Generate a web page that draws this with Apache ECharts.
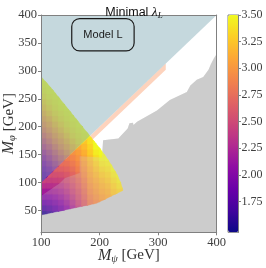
<!DOCTYPE html>
<html><head><meta charset="utf-8">
<script src="https://cdn.jsdelivr.net/npm/echarts@6/dist/echarts.min.js"></script>
<style>html,body{margin:0;padding:0;background:#fff}#c{width:266px;height:268px}</style>
</head><body><div id="c"></div>
<script>
// ---- axes / ticks ----
const xTicks = [100, 200, 300, 400];
const yTicks = [50, 100, 150, 200, 250, 300, 350, 400];
const cbTicks = [1.75, 2.00, 2.25, 2.50, 2.75, 3.00, 3.25, 3.50];
const xRange = [100, 400];
const yRange = [11, 400];
const lambdaRange = [1.46, 3.5];
const plasma = ['#0d0887','#41049d','#6a00a8','#8f0da4','#b12a90','#cc4778','#e16462','#f2844b','#fca636','#fcce25','#f0f921'];

// ---- regions (M_psi, M_phi) ----
const scanBoundary = [[100,42],[195,63],[240,86],[236,100],[228,118],[215,140],[200,162],[180,188],[160,214],[140,240],[120,266],[100,290]];
const excludedRegion = [[100,0],[400,0],[400,330],[395,322],[390,312],[386,302],[377,289],[366,284],[355,274],[349,262],[320,248],[298,229],[264,209],[258,203],[257,207],[251,206],[248,197],[232,179],[206,176],[204,145],[166,147],[166,117],[160,115],[141,108],[132,99],[100,76]];
const peachBand = [[150,150],[313,313],[313,302],[150,139]];
const psiHeavierRegion = [[100,100],[400,400],[100,400]];

// ---- minimal lambda_L, 10 GeV cells (left edge x, first bottom edge y, values upward) ----
const cellSize = 10;
const upperX  = [100,110,120,130,140,150,160,170,180];
const upperY0 = [100,110,120,130,140,150,160,170,180];
const upperLambda = [
  [1.80,1.88,1.97,2.07,2.18,2.30,2.44,2.58,2.72,2.85,2.96,3.06,3.16,3.25,3.33,3.40,3.45,3.48,3.50],
  [1.98,2.08,2.19,2.31,2.44,2.58,2.72,2.85,2.97,3.07,3.17,3.27,3.35,3.41,3.46,3.49,3.50],
  [2.22,2.35,2.49,2.63,2.77,2.90,3.01,3.11,3.21,3.30,3.37,3.43,3.46,3.49,3.50],
  [2.52,2.66,2.80,2.93,3.03,3.13,3.23,3.32,3.39,3.44,3.48,3.50,3.50],
  [2.82,2.95,3.06,3.16,3.26,3.35,3.41,3.45,3.48,3.50],
  [3.11,3.20,3.29,3.37,3.42,3.46,3.49,3.50],
  [3.31,3.39,3.44,3.47,3.50,3.50],
  [3.45,3.48,3.50,3.50],
  [3.50]
];
const lowerX  = [100,110,120,130,140,150,160,170,180,190,200,210,220,230];
const lowerY0 = [40,40,40,40,50,50,50,50,50,60,60,70,70,80];
const lowerLambda = [
  [1.55,1.70,1.86,2.02,2.18,2.31,2.45],
  [1.62,1.76,1.90,2.04,2.18,2.31,2.43,2.55],
  [1.72,1.85,1.97,2.09,2.21,2.33,2.44,2.54,2.65],
  [1.84,1.95,2.06,2.16,2.26,2.36,2.46,2.56,2.66,2.75],
  [2.08,2.17,2.26,2.35,2.44,2.53,2.61,2.69,2.77,2.85],
  [2.24,2.32,2.40,2.48,2.55,2.62,2.69,2.76,2.83,2.90,2.97],
  [2.42,2.48,2.55,2.61,2.67,2.73,2.80,2.86,2.92,2.98,3.04,3.10],
  [2.60,2.65,2.71,2.76,2.82,2.87,2.93,2.98,3.04,3.09,3.14,3.20,3.25],
  [2.78,2.83,2.88,2.93,2.98,3.03,3.08,3.13,3.18,3.23,3.28,3.33,3.38,3.42],
  [2.92,2.97,3.02,3.07,3.12,3.18,3.24,3.30,3.37,3.44,3.50,3.50],
  [3.00,3.05,3.10,3.15,3.20,3.27,3.34,3.41,3.47,3.50,3.50],
  [3.10,3.15,3.20,3.26,3.32,3.38,3.44,3.50],
  [3.20,3.25,3.30,3.36,3.42,3.48,3.50],
  [3.32,3.38,3.44,3.50]
];
const modelBox = { x: [152.5, 259], y: [335.7, 393.6], label: 'Model L' };

// ---- helpers ----
function buildCells(xs, y0s, vals) {
  const out = [];
  xs.forEach((x, i) => vals[i].forEach((v, j) => out.push([x, y0s[i] + j * cellSize, v])));
  return out;
}
function clipHalf(pts, a, b) {
  const out = [];
  const side = p => (b[0]-a[0])*(p[1]-a[1]) - (b[1]-a[1])*(p[0]-a[0]);
  for (let i = 0; i < pts.length; i++) {
    const cur = pts[i], prev = pts[(i + pts.length - 1) % pts.length];
    const sc = side(cur), sp = side(prev);
    if (sc >= 0) {
      if (sp < 0) { const t = sp/(sp-sc); out.push([prev[0]+t*(cur[0]-prev[0]), prev[1]+t*(cur[1]-prev[1])]); }
      out.push(cur);
    } else if (sp >= 0) {
      const t = sp/(sp-sc); out.push([prev[0]+t*(cur[0]-prev[0]), prev[1]+t*(cur[1]-prev[1])]);
    }
  }
  return out;
}
function clipConvex(pts, poly) {
  for (let i = 0; i < poly.length && pts.length; i++) pts = clipHalf(pts, poly[i], poly[(i+1) % poly.length]);
  return pts;
}
function polygonSeries(points, style) {
  return {
    type: 'custom', coordinateSystem: 'cartesian2d', xAxisIndex: 0, yAxisIndex: 0,
    data: points, clip: true, silent: true,
    renderItem: (params, api) => params.dataIndex !== 0 ? null : {
      type: 'polygon', shape: { points: points.map(p => api.coord(p)) }, style: style
    }
  };
}
function cellSeries(data, upper) {
  return {
    type: 'custom', coordinateSystem: 'cartesian2d', xAxisIndex: 0, yAxisIndex: 0,
    data: data, clip: true, silent: true, encode: { x: 0, y: 1 },
    renderItem: (params, api) => {
      const x = api.value(0), y = api.value(1), e = 0.8;
      let pts = [[x-e,y-e],[x+cellSize+e,y-e],[x+cellSize+e,y+cellSize+e],[x-e,y+cellSize+e]];
      pts = clipConvex(pts, scanBoundary);
      pts = upper ? clipHalf(pts, [0,0], [1,1]) : clipHalf(pts, [1,1], [0,0]);
      if (pts.length < 3) return null;
      const col = api.visual('color');
      return { type: 'polygon', shape: { points: pts.map(p => api.coord(p)) },
        style: { fill: col, stroke: col, lineWidth: 0.4, opacity: 1 } };
    }
  };
}

const serif = 'Liberation Serif';
const axisGray = '#808080';
const tickText = { fontFamily: serif, fontSize: 12.5, color: '#404040' };
const nameRich = {
  m: { fontFamily: serif, fontStyle: 'italic', fontSize: 16, color: '#333', lineHeight: 18 },
  s: { fontFamily: serif, fontStyle: 'italic', fontSize: 10.5, color: '#333', lineHeight: 10, verticalAlign: 'bottom' },
  g: { fontFamily: serif, fontSize: 15, color: '#333', lineHeight: 18 }
};

const chart = echarts.init(document.getElementById('c'), null, { renderer: 'canvas' });
chart.setOption({
  animation: false,
  title: {
    text: '{a|Minimal }{b|λ}{c|L}',
    left: 129, top: 0, textAlign: 'center',
    textStyle: {
      fontWeight: 'normal',
      rich: {
        a: { fontFamily: 'Liberation Sans', fontWeight: 'normal', fontSize: 12.5, color: '#111', lineHeight: 15 },
        b: { fontFamily: serif, fontWeight: 'normal', fontStyle: 'italic', fontSize: 13.5, color: '#111', lineHeight: 15 },
        c: { fontFamily: serif, fontWeight: 'normal', fontStyle: 'italic', fontSize: 9, color: '#111', lineHeight: 9, verticalAlign: 'bottom' }
      }
    }
  },
  grid: [
    { left: 41, top: 15, width: 175.7, height: 217.3, containLabel: false, outerBoundsMode: 'none' },
    { left: 228, top: 15, width: 10.5, height: 217.3, containLabel: false, outerBoundsMode: 'none',
      show: true, borderColor: axisGray, borderWidth: 1, backgroundColor: 'transparent' }
  ],
  xAxis: [
    { gridIndex: 0, type: 'value', min: xRange[0], max: xRange[1], position: 'bottom', z: 5,
      axisLine: { show: true, onZero: false, lineStyle: { color: axisGray, width: 1 } },
      axisTick: { show: true, customValues: xTicks, length: 3, lineStyle: { color: axisGray } },
      axisLabel: Object.assign({ customValues: xTicks, margin: 4 }, tickText),
      splitLine: { show: false },
      name: '{m|M}{s|ψ} {g|[GeV]}', nameLocation: 'middle', nameGap: 14, nameMoveOverlap: false,
      nameTextStyle: { fontFamily: serif, fontSize: 15, color: '#333', rich: nameRich } },
    { gridIndex: 0, type: 'value', min: xRange[0], max: xRange[1], position: 'top', z: 5,
      axisLine: { show: true, onZero: false, lineStyle: { color: axisGray, width: 1 } },
      axisTick: { show: false }, axisLabel: { show: false }, splitLine: { show: false } },
    { gridIndex: 1, type: 'value', min: 0, max: 1, show: false }
  ],
  yAxis: [
    { gridIndex: 0, type: 'value', min: yRange[0], max: yRange[1], position: 'left', z: 5,
      axisLine: { show: true, onZero: false, lineStyle: { color: axisGray, width: 1 } },
      axisTick: { show: true, customValues: yTicks, length: 3, lineStyle: { color: axisGray } },
      axisLabel: Object.assign({ customValues: yTicks, margin: 4 }, tickText),
      splitLine: { show: false },
      name: '{m|M}{s|φ} {g|[GeV]}', nameLocation: 'middle', nameGap: 23, nameMoveOverlap: false,
      nameTextStyle: { fontFamily: serif, fontSize: 15, color: '#333', rich: nameRich } },
    { gridIndex: 0, type: 'value', min: yRange[0], max: yRange[1], position: 'right', z: 5,
      axisLine: { show: true, onZero: false, lineStyle: { color: axisGray, width: 1 } },
      axisTick: { show: false }, axisLabel: { show: false }, splitLine: { show: false } },
    { gridIndex: 1, type: 'value', min: lambdaRange[0], max: lambdaRange[1], position: 'right', z: 5,
      axisLine: { show: true, onZero: false, lineStyle: { color: axisGray, width: 1 } },
      axisTick: { show: true, customValues: cbTicks, length: 2.5, lineStyle: { color: axisGray } },
      axisLabel: Object.assign({ customValues: cbTicks, margin: 3, formatter: v => Number(v).toFixed(2) }, tickText, { fontSize: 12 }),
      splitLine: { show: false } }
  ],
  visualMap: {
    type: 'continuous', min: lambdaRange[0], max: lambdaRange[1], seriesIndex: [2, 3], dimension: 2,
    inRange: { color: plasma }, left: 228, top: 15, itemWidth: 10.5, itemHeight: 217.3,
    calculable: false, padding: 0, hoverLink: false
  },
  series: [
    polygonSeries(excludedRegion, { fill: '#cdcdcd' }),
    polygonSeries(peachBand, { fill: '#fdd3bd' }),
    cellSeries(buildCells(lowerX, lowerY0, lowerLambda), false),
    cellSeries(buildCells(upperX, upperY0, upperLambda), true),
    polygonSeries(excludedRegion, { fill: 'rgba(205,205,205,0.25)' }),
    polygonSeries(psiHeavierRegion, { fill: 'rgba(126,168,179,0.45)' }),
    {
      type: 'custom', coordinateSystem: 'cartesian2d', xAxisIndex: 0, yAxisIndex: 0, silent: true,
      data: [[modelBox.x[0], modelBox.y[0]]],
      renderItem: (params, api) => {
        const p1 = api.coord([modelBox.x[0], modelBox.y[1]]);
        const p2 = api.coord([modelBox.x[1], modelBox.y[0]]);
        return { type: 'group', children: [
          { type: 'rect', shape: { x: p1[0], y: p1[1], width: p2[0]-p1[0], height: p2[1]-p1[1], r: 8 },
            style: { fill: 'none', stroke: '#1a1a1a', lineWidth: 1.2 } },
          { type: 'text', x: (p1[0]+p2[0])/2, y: (p1[1]+p2[1])/2,
            style: { text: modelBox.label, align: 'center', verticalAlign: 'middle', fontFamily: 'Liberation Sans', fontSize: 11, fill: '#1a1a1a' } }
        ] };
      }
    }
  ]
});
</script></body></html>
